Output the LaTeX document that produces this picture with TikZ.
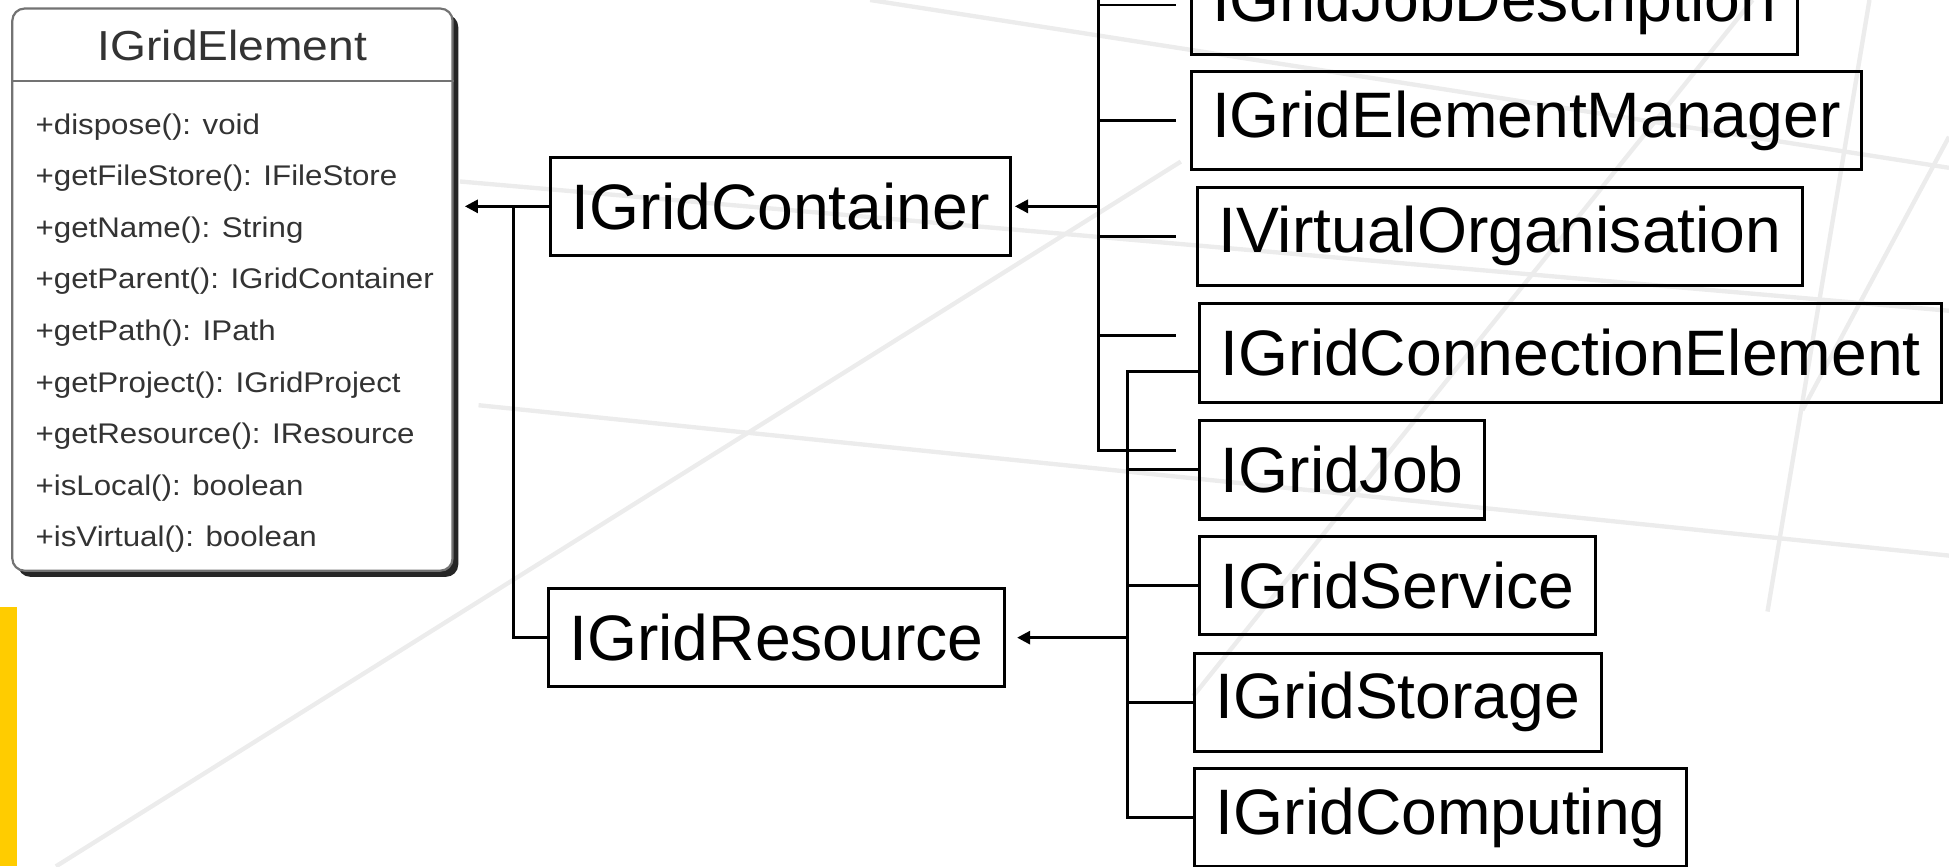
\documentclass[tikz,border=0pt]{standalone}
\usepackage{fontspec}
\setmainfont{Liberation Sans}
\newfontfamily\widesans[FakeStretch=1.1]{Liberation Sans}
\usetikzlibrary{arrows.meta, shadows}

\definecolor{slideyellow}{HTML}{FFCC00}
\definecolor{decogray}{HTML}{ECECEC}

\begin{document}
\begin{tikzpicture}[x=0.01cm, y=-0.01cm,
    iface/.style={draw, line width=0.7pt, anchor=west, inner xsep=4.8pt, inner ysep=0pt,
        minimum height=0.79cm, font=\fontsize{14.7}{16}\selectfont},
    classbox/.style={draw=black!55, line width=0.5pt, fill=white, rounded corners=2.8pt,
        minimum width=3.54cm, minimum height=4.52cm,
        drop shadow={shadow xshift=1.3pt, shadow yshift=-1.4pt, fill=black!85, opacity=1}},
    member/.style={anchor=west, inner sep=0pt, text=black!80,
        font=\widesans\fontsize{6.5}{7}\selectfont},
    link/.style={line width=0.65pt},
    arr/.style={link, -{Triangle[length=3pt, width=3pt]}},
    deco/.style={draw=decogray, line width=1pt}]
    \useasboundingbox (0,0) rectangle (1568,697);
    \clip (0,0) rectangle (1568,697);

    % slide background strokes
    \draw[deco] (385,326) -- (1568,447);
    \draw[deco] (370,146) -- (1568,250);
    \draw[deco] (45,697) -- (950,130);
    \draw[deco] (960,560) -- (1410,0);
    \draw[deco] (1504,0) -- (1422,492);
    \draw[deco] (700,0) -- (1568,135);
    \draw[deco] (1568,110) -- (1450,330);

    % yellow slide marker
    \fill[slideyellow] (0,488) rectangle (14,697);

    % IGridElement class with its members
    \node[classbox] (elem) at (187,233) {};
    \draw[black!55, line width=0.5pt] ([yshift=-0.59cm]elem.north west) -- ([yshift=-0.59cm]elem.north east);
    \node[text=black!80, font=\widesans\fontsize{9.6}{11}\selectfont] (title) at (187,37) {IGridElement};
    \foreach \txt [count=\i] in {+dispose(): void, +getFileStore(): IFileStore,
        +getName(): String, +getParent(): IGridContainer, +getPath(): IPath,
        +getProject(): IGridProject, +getResource(): IResource,
        +isLocal(): boolean, +isVirtual(): boolean}
        \node[member] (m\i) at (28,60.5+41.5*\i) {\txt};

    % sub-interfaces
    \node[iface] (cont) at (442,166) {IGridContainer};
    \node[iface] (res) at (440,513) {IGridResource};

    % right column
    \node[iface] (jdesc) at (957,4) {IGridJobDescription};
    \node[iface] (emgr) at (957,97) {IGridElementManager};
    \node[iface] (vorg) at (962,190) {IVirtualOrganisation};
    \node[iface] (conn) at (964,284) {IGridConnectionElement};
    \node[iface] (job) at (964,378) {IGridJob};
    \node[iface] (serv) at (964,471) {IGridService};
    \node[iface] (stor) at (960,565) {IGridStorage};
    \node[iface] (comp) at (960,658) {IGridComputing};

    % inheritance towards IGridElement
    \coordinate (tipE) at (374,166);
    \coordinate (joinE) at (413,166);
    \draw[arr] (cont.west) -- (tipE);
    \draw[link] (res.west) -| (joinE);

    % bus feeding IGridContainer
    \coordinate (bus1) at (884,-10);
    \coordinate (stub) at (946,0);
    \draw[link] (bus1) |- ([yshift=4.4pt]stub |- job.west);
    \foreach \n in {jdesc, emgr, vorg}
        \draw[link] (bus1 |- \n.west) -- (stub |- \n.west);
    \draw[link] ([yshift=4.1pt]bus1 |- conn.west) -- ([yshift=4.1pt]stub |- conn.west);
    \draw[arr] (bus1 |- cont.east) -- ([xshift=0.6pt]cont.east);

    % bus feeding IGridResource
    \coordinate (bus2) at (907,0);
    \draw[link] ([yshift=-4.2pt]conn.west) -| (bus2 |- comp.west) -- (comp.west);
    \foreach \n in {job, serv, stor}
        \draw[link] (bus2 |- \n.west) -- (\n.west);
    \draw[arr] (bus2 |- res.east) -- ([xshift=2.5pt]res.east);
\end{tikzpicture}
\end{document}
